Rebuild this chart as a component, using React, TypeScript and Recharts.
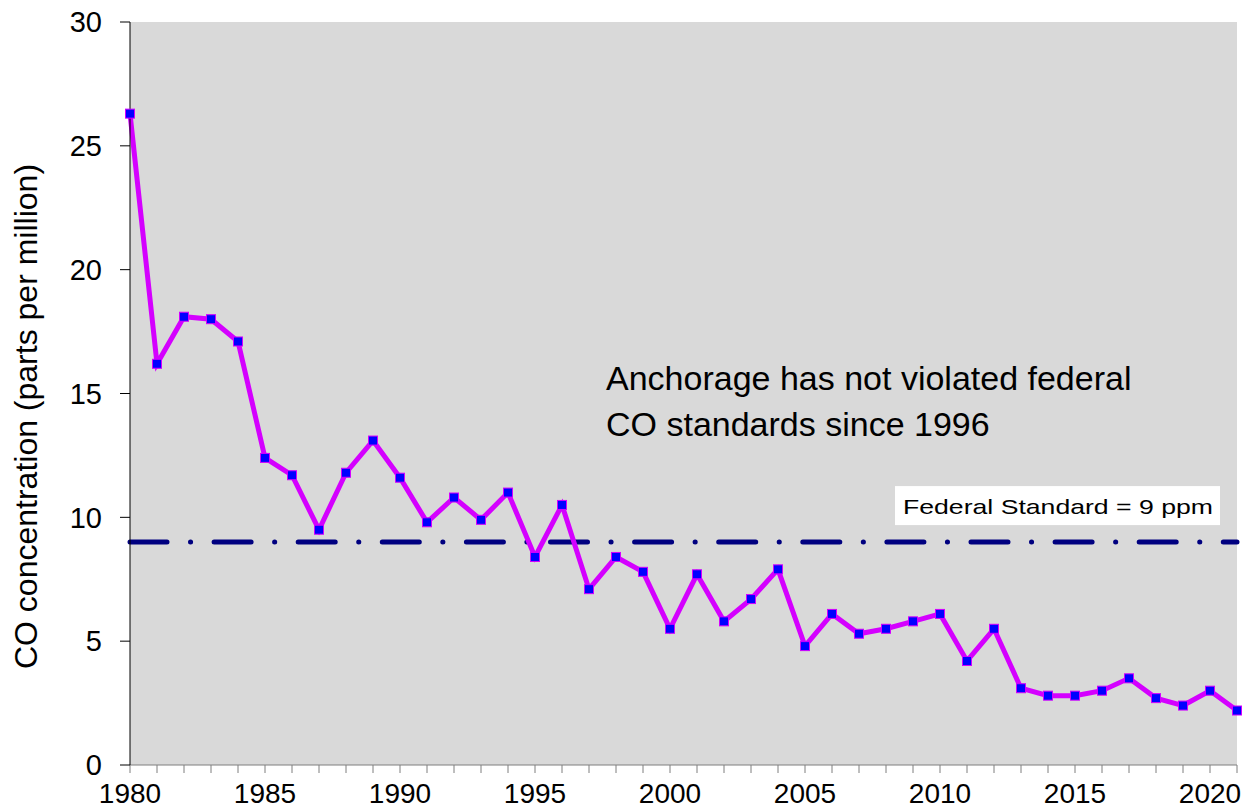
import { LineChart, Line, XAxis, YAxis, ReferenceLine } from 'recharts'

const years = [
  1980, 1981, 1982, 1983, 1984, 1985, 1986, 1987, 1988, 1989,
  1990, 1991, 1992, 1993, 1994, 1995, 1996, 1997, 1998, 1999,
  2000, 2001, 2002, 2003, 2004, 2005, 2006, 2007, 2008, 2009,
  2010, 2011, 2012, 2013, 2014, 2015, 2016, 2017, 2018, 2019,
  2020, 2021,
]
const coValues = [
  26.3, 16.2, 18.1, 18.0, 17.1, 12.4, 11.7, 9.5, 11.8, 13.1,
  11.6, 9.8, 10.8, 9.9, 11.0, 8.4, 10.5, 7.1, 8.4, 7.8,
  5.5, 7.7, 5.8, 6.7, 7.9, 4.8, 6.1, 5.3, 5.5, 5.8,
  6.1, 4.2, 5.5, 3.1, 2.8, 2.8, 3.0, 3.5, 2.7, 2.4,
  3.0, 2.2,
]
const yTicks = [0, 5, 10, 15, 20, 25, 30]
const xTickLabels = [1980, 1985, 1990, 1995, 2000, 2005, 2010, 2015, 2020]
const federalStandard = 9
const standardLabel = 'Federal Standard = 9 ppm'
const yAxisTitle = 'CO concentration (parts per million)'
const noteLines = ['Anchorage has not violated federal', 'CO standards since 1996']

const data = years.map((year, i) => ({ year, co: coValues[i] }))

const SquareDot = (props: any) => {
  const { cx, cy } = props
  if (cx == null || cy == null) return null
  return <rect x={cx - 4.5} y={cy - 4.5} width={9} height={9} fill="#0000ff" stroke="#d400ff" strokeWidth={1} />
}

// white box sitting just above the standard line, near the right edge
const StandardLabel = (props: any) => {
  const { viewBox } = props
  const right = viewBox.x + viewBox.width - 17
  const bottom = viewBox.y - 17
  return (
    <g>
      <rect x={right - 325} y={bottom - 39} width={325} height={39} fill="#ffffff" />
      <text
        x={right - 162}
        y={bottom - 11}
        textAnchor="middle"
        fontSize={21}
        textLength={310}
        lengthAdjust="spacingAndGlyphs"
        fill="#000"
      >
        {standardLabel}
      </text>
    </g>
  )
}

const YTitle = (props: any) => {
  const { viewBox } = props
  const cy = viewBox.y + viewBox.height / 2 + 23
  return (
    <text x={37} y={cy} transform={`rotate(-90 37 ${cy})`} textAnchor="middle" fontSize={32} fill="#000">
      {yAxisTitle}
    </text>
  )
}

export default function App() {
  return (
    <div style={{ position: 'absolute', left: 0, top: 0, width: 1249, height: 811, fontFamily: '"Liberation Sans", Arial, sans-serif', background: '#fff' }}>
      <LineChart width={1249} height={811} data={data} margin={{ top: 22, right: 12, bottom: 0, left: 0 }}>
        <rect x={130} y={22} width={1107} height={743} fill="#d9d9d9" />
        <XAxis
          dataKey="year"
          type="number"
          domain={[1980, 2021]}
          ticks={years}
          interval={0}
          height={46}
          tickSize={8}
          tickMargin={10}
          stroke="#7f7f7f"
          tick={{ fontSize: 28, fill: '#000' }}
          tickFormatter={(y: number) => (xTickLabels.includes(y) ? String(y) : '')}
        />
        <YAxis
          domain={[0, 30]}
          ticks={yTicks}
          width={130}
          tickSize={10}
          tickMargin={18}
          stroke="#000"
          tick={{ fontSize: 29, fill: '#000' }}
          label={<YTitle />}
        />
        <ReferenceLine
          y={federalStandard}
          stroke="#000080"
          strokeWidth={5}
          strokeLinecap="round"
          strokeDasharray="37 23.5 0.1 23.5"
          label={<StandardLabel />}
        />
        <Line
          dataKey="co"
          stroke="#d400ff"
          strokeWidth={5}
          dot={<SquareDot />}
          activeDot={false}
          isAnimationActive={false}
        />
      </LineChart>
      <div style={{ position: 'absolute', left: 606, top: 355, fontSize: 34, lineHeight: '46px', color: '#000' }}>
        {noteLines.map((l) => (
          <div key={l}>{l}</div>
        ))}
      </div>
    </div>
  )
}
